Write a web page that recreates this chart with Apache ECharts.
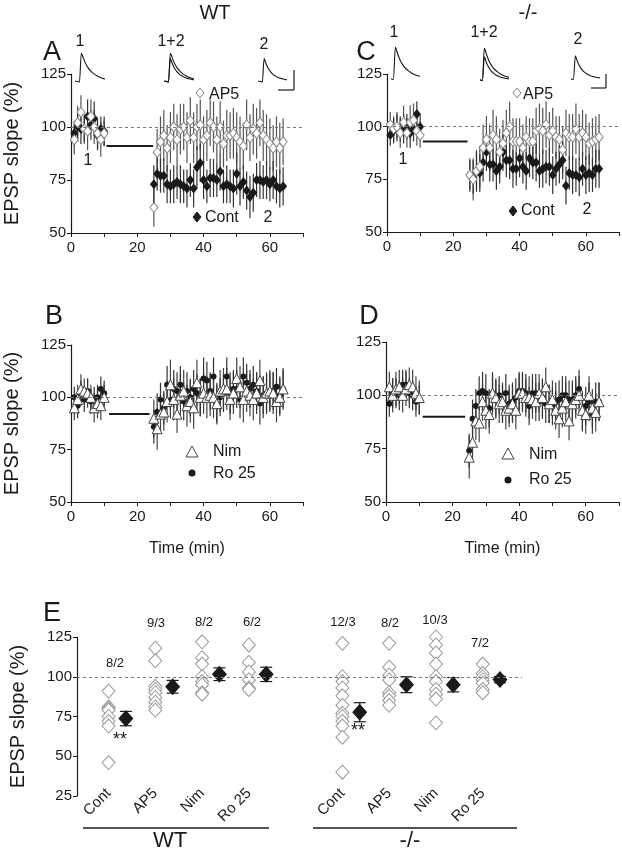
<!DOCTYPE html>
<html>
<head>
<meta charset="utf-8">
<script src="https://cdn.jsdelivr.net/npm/echarts@6.0.0/dist/echarts.min.js"></script>
<style>
  html, body { margin: 0; padding: 0; background: #fff; }
  #main { width: 622px; height: 853px; }
</style>
</head>
<body>
<div id="main"></div>
<script>
// time points (min)
const tBase = [1, 2, 3, 4, 5, 6, 7, 8, 9, 10];
const tPost = [25, 26, 27, 28, 29, 30, 31, 32, 33, 34, 35, 36, 37, 38, 39, 40, 41, 42, 43, 44,
  45, 46, 47, 48, 49, 50, 51, 52, 53, 54, 55, 56, 57, 58, 59, 60, 61, 62, 63, 64];

// A - WT, Cont / AP5
const aContBase = [97, 100, 99, 99, 105, 101, 104, 96, 99, 98];
const aContPost = [73, 78, 77, 77, 73, 72, 73, 74, 73, 72, 71, 75, 71, 81, 83, 75, 72, 76, 76, 75,
  79, 72, 73, 72, 71, 78, 72, 74, 70, 67, 69, 75, 75, 74, 75, 73, 75, 72, 71, 72];
const aContErr = [6, 7, 7, 6, 8, 7, 8, 7, 6, 7, 9, 8, 8, 8, 9, 8, 9, 8, 9, 8, 9, 8, 9, 10, 9, 9, 8, 9, 9, 8,
  9, 8, 9, 8, 9, 10, 9, 8, 9, 10, 9, 8, 9, 8, 9, 8, 9, 8, 9, 9];
const aAp5Base = [94, 102, 107, 99, 98, 105, 100, 97, 94, 97];
const aAp5Post = [62, 88, 93, 96, 90, 95, 100, 94, 99, 100, 95, 103, 95, 100, 101, 94, 96, 102, 100, 94,
  100, 92, 96, 96, 97, 95, 93, 91, 101, 95, 99, 97, 102, 96, 94, 92, 90, 93, 90, 93];
const aAp5Err = [7, 8, 8, 7, 9, 8, 8, 7, 8, 6, 9, 11, 12, 12, 11, 12, 11, 12, 12, 11, 12, 11, 12, 11, 12, 11, 12, 11, 12, 11,
  12, 11, 12, 11, 12, 12, 12, 11, 12, 11, 12, 12, 11, 12, 12, 12, 11, 12, 12, 11];

// C - -/-, Cont / AP5
const cContBase = [96, 98, 100, 99, 99, 100, 97, 99, 106, 100];
const cContPost = [77, 76, 79, 78, 83, 88, 82, 82, 79, 81, 88, 84, 84, 80, 80, 85, 81, 79, 85, 83,
  83, 79, 80, 81, 81, 77, 80, 82, 84, 72, 78, 77, 77, 76, 80, 77, 78, 77, 80, 80];
const cContErr = [5, 6, 6, 6, 7, 6, 7, 6, 6, 6, 7, 8, 9, 9, 9, 9, 8, 8, 9, 8, 9, 8, 9, 9, 8, 9, 8, 9, 9, 8,
  9, 8, 9, 8, 9, 9, 8, 9, 9, 9, 8, 9, 8, 9, 8, 9, 9, 8, 9, 9];
const cAp5Base = [101, 99, 100, 97, 102, 97, 102, 103, 98, 96];
const cAp5Post = [77, 75, 79, 81, 90, 94, 90, 96, 94, 88, 92, 97, 100, 93, 93, 93, 90, 95, 93, 93,
  98, 99, 98, 101, 96, 98, 95, 94, 89, 97, 95, 95, 99, 95, 97, 95, 92, 93, 94, 95];
const cAp5Err = [6, 6, 7, 7, 8, 7, 8, 8, 7, 6, 8, 10, 10, 10, 11, 11, 11, 12, 11, 11, 11, 11, 12, 11, 11, 11, 11, 10, 11, 11,
  11, 12, 11, 11, 11, 11, 10, 11, 11, 11, 11, 11, 12, 11, 11, 11, 10, 11, 11, 11];

// B - WT, Nim / Ro 25
const bNimBase = [95, 99, 104, 103, 102, 100, 95, 97, 96, 100];
const bNimPost = [90, 85, 92, 93, 98, 106, 99, 92, 101, 103, 96, 98, 95, 107, 100, 102, 100, 101, 100, 97,
  103, 104, 104, 99, 102, 109, 105, 99, 103, 101, 99, 102, 108, 100, 102, 103, 102, 98, 100, 104];
const bNimErr = [6, 7, 7, 6, 7, 6, 7, 7, 7, 6, 9, 10, 9, 9, 10, 12, 10, 9, 10, 10, 10, 10, 10, 11, 9, 10, 10, 10, 10, 10,
  10, 10, 10, 10, 10, 10, 10, 11, 10, 10, 10, 10, 10, 10, 10, 10, 10, 10, 9, 10];
const bRoBase = [100, 96, 102, 99, 103, 98, 99, 100, 104, 102];
const bRoPost = [86, 93, 99, 95, 106, 99, 104, 103, 106, 98, 103, 100, 104, 102, 100, 109, 108, 103, 110, 97,
  100, 102, 110, 102, 104, 104, 99, 110, 107, 104, 106, 103, 97, 101, 102, 103, 103, 105, 101, 104];
const bRoErr = [5, 6, 6, 6, 6, 6, 6, 6, 6, 6, 8, 9, 8, 8, 9, 9, 9, 9, 9, 9, 9, 9, 9, 9, 9, 10, 9, 9, 9, 9,
  9, 9, 9, 10, 9, 9, 9, 9, 9, 9, 9, 9, 10, 9, 9, 9, 9, 9, 9, 9];

// D - -/-, Nim / Ro 25
const dNimBase = [104, 100, 103, 104, 100, 103, 105, 104, 101, 99];
const dNimPost = [71, 78, 88, 87, 97, 93, 91, 101, 99, 96, 97, 93, 94, 96, 93, 101, 101, 99, 99, 98,
  97, 101, 99, 104, 96, 98, 93, 89, 94, 97, 88, 96, 98, 100, 93, 91, 100, 94, 92, 97];
const dNimErr = [7, 8, 8, 8, 8, 8, 8, 8, 8, 8, 10, 9, 9, 9, 9, 9, 9, 10, 9, 9, 9, 9, 9, 9, 9, 9, 9, 9, 10, 9,
  9, 9, 9, 9, 9, 9, 9, 9, 9, 9, 9, 9, 9, 9, 9, 9, 9, 9, 9, 9];
const dRoBase = [96, 101, 101, 100, 105, 105, 101, 100, 97, 98];
const dRoPost = [74, 89, 95, 101, 102, 101, 94, 101, 98, 100, 96, 101, 96, 97, 99, 102, 102, 101, 95, 101,
  101, 97, 98, 96, 96, 95, 97, 98, 100, 100, 98, 98, 100, 103, 92, 95, 97, 91, 97, 97];
const dRoErr = [6, 7, 7, 7, 7, 7, 7, 7, 7, 7, 8, 9, 8, 8, 9, 9, 9, 9, 9, 9, 9, 9, 9, 9, 9, 9, 9, 9, 9, 9,
  9, 9, 9, 9, 9, 9, 9, 9, 9, 9, 9, 9, 9, 9, 9, 9, 9, 9, 9, 9];

// drug application bars [start, end] and level
const drugA = [10.7, 24.8], drugLevelA = 91;
const drugC = [10.8, 24.3], drugLevelC = 93;
const drugB = [11.5, 23.7], drugLevelB = 92;
const drugD = [11.0, 23.8], drugLevelD = 90;

// E - single experiments
const namesE = ['Cont', 'AP5', 'Nim', 'Ro 25', 'Cont', 'AP5', 'Nim', 'Ro 25'];
const countsE = ['8/2', '9/3', '8/2', '6/2', '12/3', '8/2', '10/3', '7/2'];
const wtCont = [91, 81, 80, 79, 75, 72, 69, 46];
const wtAp5 = [118, 110, 94, 92, 90, 87, 84, 81, 79];
const wtNim = [122, 112, 108, 100, 97, 95, 90, 89];
const wtRo = [120, 109, 103, 98, 93, 92];
const koCont = [121, 100, 97, 93, 88, 82, 77, 75, 72, 69, 62, 40];
const koAp5 = [121, 106, 101, 98, 90, 88, 85, 82];
const koNim = [125, 120, 115, 108, 100, 97, 92, 89, 86, 71];
const koRo = [108, 102, 100, 98, 96, 92, 90];
const meanWT = [73.7, 93.7, 101.6, 101.5];
const errWT = [4.5, 4, 4, 4.5];
const meanKO = [77.7, 95, 95, 98.2];
const errKO = [6, 5, 4.5, 2];

// sample EPSP traces (normalised)
const traceA1 = [0, 0, -0.04, 1.0, 0.8, 0.62, 0.49, 0.39, 0.31, 0.25, 0.2, 0.16, 0.13, 0.1, 0.08];
const traceA2 = [0, 0, -0.04, 0.8, 0.6, 0.45, 0.34, 0.26, 0.2, 0.16, 0.12, 0.1, 0.08, 0.06, 0.05];
const traceC1 = [0, -0.03, 1.0, 0.78, 0.6, 0.47, 0.37, 0.3, 0.24, 0.19, 0.15, 0.12, 0.1, 0.08];
const traceC2 = [0, -0.03, 0.72, 0.52, 0.38, 0.28, 0.21, 0.16, 0.12, 0.09, 0.07, 0.05, 0.04, 0.03];

const FONT = 'Liberation Sans, Arial, sans-serif';
const INK = '#1a1a1a';
const times = tBase.concat(tPost);

function pts(base, post) {
  return base.concat(post).map((v, i) => [times[i], v]);
}
function errPts(base, post, e) {
  return base.concat(post).map((v, i) => [times[i], v - e[i], v + e[i]]);
}

function errBars(gi, data, color, cap) {
  return {
    type: 'custom', xAxisIndex: gi, yAxisIndex: gi, data: data, z: 2, silent: true,
    renderItem: function (params, api) {
      const x = api.value(0);
      const lo = api.coord([x, api.value(1)]);
      const hi = api.coord([x, api.value(2)]);
      const style = { stroke: color, lineWidth: 1.2 };
      const kids = [{ type: 'line', shape: { x1: lo[0], y1: lo[1], x2: hi[0], y2: hi[1] }, style: style }];
      if (cap) {
        kids.push({ type: 'line', shape: { x1: lo[0] - cap, y1: lo[1], x2: lo[0] + cap, y2: lo[1] }, style: style });
        kids.push({ type: 'line', shape: { x1: hi[0] - cap, y1: hi[1], x2: hi[0] + cap, y2: hi[1] }, style: style });
      }
      return { type: 'group', children: kids };
    }
  };
}

function dots(gi, data, symbol, size, fill, stroke, z) {
  return {
    type: 'scatter', xAxisIndex: gi, yAxisIndex: gi, data: data, symbol: symbol, symbolSize: size,
    itemStyle: { color: fill, borderColor: stroke || fill, borderWidth: stroke ? 1 : 0, opacity: 1 },
    z: z || 3, silent: true
  };
}

function refLine(gi) {
  return {
    type: 'line', xAxisIndex: gi, yAxisIndex: gi, data: [], silent: true,
    markLine: {
      silent: true, symbol: ['none', 'none'], label: { show: false },
      lineStyle: { type: [3, 3], color: '#777', width: 1 },
      data: [{ yAxis: 100 }]
    }
  };
}

function drugBar(gi, span, level) {
  return {
    type: 'line', xAxisIndex: gi, yAxisIndex: gi, showSymbol: false, silent: true,
    data: [[span[0], level], [span[1], level]],
    lineStyle: { color: INK, width: 2 }, z: 2
  };
}

function traceLine(gi, data) {
  return {
    type: 'line', xAxisIndex: gi, yAxisIndex: gi, showSymbol: false, silent: true, smooth: 0.25,
    data: data.map((v, i) => [i, v]), lineStyle: { color: INK, width: 1.1 }
  };
}

function timeAxis(gi, withName) {
  return {
    gridIndex: gi, type: 'value', min: 0, max: 70, interval: 10,
    axisLine: { onZero: false, lineStyle: { color: INK, width: 1.2 } },
    axisTick: { length: 4, lineStyle: { color: INK } },
    axisLabel: { formatter: v => (v % 20 === 0 ? String(v) : ''), color: INK, fontSize: 15, fontFamily: FONT, margin: 7 },
    splitLine: { show: false },
    name: withName ? 'Time (min)' : '', nameLocation: 'middle', nameGap: 39,
    nameTextStyle: { color: INK, fontSize: 16, fontFamily: FONT }
  };
}

function yAxis(gi, min, name) {
  return {
    gridIndex: gi, type: 'value', min: min, max: 125, interval: 25,
    axisLine: { show: true, onZero: false, lineStyle: { color: INK, width: 1.2 } },
    axisTick: { show: true, length: 4, lineStyle: { color: INK } },
    axisLabel: { color: INK, fontSize: 15, fontFamily: FONT, margin: 5 },
    splitLine: { show: false },
    name: name || '', nameLocation: 'middle', nameGap: 49,
    nameTextStyle: { color: INK, fontSize: 20, fontFamily: FONT }
  };
}

function hiddenAxes(gi, n) {
  return [
    { gridIndex: gi, type: 'value', min: 0, max: n - 1, show: false },
    { gridIndex: gi, type: 'value', min: -0.1, max: 1, show: false }
  ];
}

// graphic helpers
function txt(x, y, s, size, align) {
  const a = align || 'center';
  return {
    type: 'text', x: x, y: y, silent: true,
    style: { text: s, font: size + 'px ' + FONT, fill: INK, textAlign: a, textVerticalAlign: 'middle', align: a, verticalAlign: 'middle' }
  };
}
function seg(x1, y1, x2, y2, w) {
  return { type: 'line', silent: true, shape: { x1: x1, y1: y1, x2: x2, y2: y2 }, style: { stroke: INK, lineWidth: w || 1.2 } };
}
function diamond(x, y, filled) {
  return {
    type: 'polygon', silent: true,
    shape: { points: [[x, y - 5], [x + 4, y], [x, y + 5], [x - 4, y]] },
    style: { fill: filled ? INK : '#fff', stroke: filled ? INK : '#888', lineWidth: 1 }
  };
}
function triangle(x, y) {
  return {
    type: 'polygon', silent: true,
    shape: { points: [[x, y - 6], [x + 6, y + 5], [x - 6, y + 5]] },
    style: { fill: '#fff', stroke: '#444', lineWidth: 1 }
  };
}
function dot(x, y) {
  return { type: 'circle', silent: true, shape: { cx: x, cy: y, r: 3.5 }, style: { fill: INK } };
}

// panel E data
const posE = [0, 1, 2, 3, 5, 6, 7, 8];
const groupsE = [wtCont, wtAp5, wtNim, wtRo, koCont, koAp5, koNim, koRo];
const meansE = meanWT.concat(meanKO);
const semE = errWT.concat(errKO);
const openE = [];
groupsE.forEach((vals, g) => vals.forEach(v => openE.push([posE[g], v])));
const filledE = meansE.map((m, g) => [posE[g] + 0.37, m]);
const errE = meansE.map((m, g) => [posE[g] + 0.37, m - semE[g], m + semE[g]]);

const chart = echarts.init(document.getElementById('main'), null, { renderer: 'canvas' });

const option = {
  animation: false,
  backgroundColor: '#fff',
  grid: [
    { left: 71, top: 74, width: 232, height: 159 },   // A
    { left: 387, top: 74, width: 238, height: 158 },  // C
    { left: 71, top: 345, width: 232, height: 157 },  // B
    { left: 386, top: 342, width: 239, height: 160 }, // D
    { left: 71, top: 637, width: 451, height: 159 },  // E
    { left: 75, top: 53, width: 30, height: 31 },     // trace A1
    { left: 164, top: 53, width: 30, height: 31 },    // trace A1+2
    { left: 258, top: 53, width: 29, height: 31 },    // trace A2
    { left: 391, top: 47, width: 29, height: 35 },    // trace C1
    { left: 480, top: 48, width: 29, height: 35 },    // trace C1+2
    { left: 571, top: 47, width: 29, height: 35 }     // trace C2
  ],
  xAxis: [
    timeAxis(0, false), timeAxis(1, false), timeAxis(2, true), timeAxis(3, true),
    {
      gridIndex: 4, type: 'value', min: -0.675, max: 8.84,
      axisLine: { show: false, onZero: false }, axisTick: { show: false }, splitLine: { show: false },
      axisLabel: {
        customValues: posE, formatter: v => namesE[posE.indexOf(v)] || '',
        rotate: 45, color: INK, fontSize: 15, fontFamily: FONT, margin: -5
      }
    },
    hiddenAxes(5, traceA1.length)[0], hiddenAxes(6, traceA1.length)[0], hiddenAxes(7, traceA2.length)[0],
    hiddenAxes(8, traceC1.length)[0], hiddenAxes(9, traceC1.length)[0], hiddenAxes(10, traceC2.length)[0]
  ],
  yAxis: [
    yAxis(0, 50, 'EPSP slope (%)'), yAxis(1, 50), yAxis(2, 50, 'EPSP slope (%)'), yAxis(3, 50),
    yAxis(4, 25, 'EPSP slope (%)'),
    hiddenAxes(5, 2)[1], hiddenAxes(6, 2)[1], hiddenAxes(7, 2)[1],
    hiddenAxes(8, 2)[1], hiddenAxes(9, 2)[1], hiddenAxes(10, 2)[1]
  ],
  series: [
    // A
    refLine(0), drugBar(0, drugA, drugLevelA),
    errBars(0, errPts(aAp5Base, aAp5Post, aAp5Err), '#555'),
    errBars(0, errPts(aContBase, aContPost, aContErr), '#333'),
    dots(0, pts(aContBase, aContPost), 'diamond', [8, 10], INK),
    dots(0, pts(aAp5Base, aAp5Post), 'diamond', [8, 10], '#fff', '#888', 4),
    // C
    refLine(1), drugBar(1, drugC, drugLevelC),
    errBars(1, errPts(cAp5Base, cAp5Post, cAp5Err), '#555'),
    errBars(1, errPts(cContBase, cContPost, cContErr), '#333'),
    dots(1, pts(cContBase, cContPost), 'diamond', [8, 10], INK),
    dots(1, pts(cAp5Base, cAp5Post), 'diamond', [8, 10], '#fff', '#888', 4),
    // B
    refLine(2), drugBar(2, drugB, drugLevelB),
    errBars(2, errPts(bNimBase, bNimPost, bNimErr), '#444'),
    errBars(2, errPts(bRoBase, bRoPost, bRoErr), '#333'),
    dots(2, pts(bRoBase, bRoPost), 'circle', 6, INK),
    dots(2, pts(bNimBase, bNimPost), 'triangle', 10, '#fff', '#444', 4),
    // D
    refLine(3), drugBar(3, drugD, drugLevelD),
    errBars(3, errPts(dNimBase, dNimPost, dNimErr), '#444'),
    errBars(3, errPts(dRoBase, dRoPost, dRoErr), '#333'),
    dots(3, pts(dRoBase, dRoPost), 'circle', 6, INK),
    dots(3, pts(dNimBase, dNimPost), 'triangle', 10, '#fff', '#444', 4),
    // E
    refLine(4),
    dots(4, openE, 'diamond', [13, 14], '#fff', '#999'),
    errBars(4, errE, INK, 6),
    dots(4, filledE, 'diamond', [15, 17], INK, null, 4),
    // traces
    traceLine(5, traceA1),
    traceLine(6, traceA1), traceLine(6, traceA2),
    traceLine(7, traceA2),
    traceLine(8, traceC1),
    traceLine(9, traceC1), traceLine(9, traceC2),
    traceLine(10, traceC2)
  ],
  graphic: [
    txt(215, 13, 'WT', 20), txt(528, 13, '-/-', 20),
    txt(52, 53, 'A', 27), txt(366, 53, 'C', 27), txt(54, 317, 'B', 27), txt(369, 317, 'D', 27), txt(52, 614, 'E', 27),
    // trace labels
    txt(80, 42, '1', 16), txt(171, 42, '1+2', 16), txt(264, 45, '2', 16),
    txt(394, 33, '1', 16), txt(484, 33, '1+2', 16), txt(578, 40, '2', 16),
    // scale bars
    seg(294, 70, 294, 90), seg(278, 90, 294, 90),
    seg(606, 74, 606, 88), seg(591, 88, 606, 88),
    // A annotations
    txt(88, 161, '1', 16),
    diamond(200, 93, false), txt(209, 95, 'AP5', 16, 'left'),
    diamond(197, 217, true), txt(205, 218, 'Cont', 16, 'left'), txt(268, 218, '2', 16),
    // C annotations
    txt(403, 160, '1', 16),
    diamond(517, 93, false), txt(523, 95, 'AP5', 16, 'left'),
    diamond(513, 211, true), txt(521, 211, 'Cont', 16, 'left'), txt(587, 210, '2', 16),
    // B legend
    triangle(192, 452), txt(213, 452, 'Nim', 16, 'left'),
    dot(192, 473), txt(213, 474, 'Ro 25', 16, 'left'),
    // D legend
    triangle(508, 454), txt(529, 455, 'Nim', 16, 'left'),
    dot(508, 480), txt(529, 480, 'Ro 25', 16, 'left'),
    // E annotations
    txt(115, 663, countsE[0], 13), txt(156, 623, countsE[1], 13), txt(204, 622, countsE[2], 13), txt(252, 622, countsE[3], 13),
    txt(343, 622, countsE[4], 13), txt(390, 623, countsE[5], 13), txt(435, 620, countsE[6], 13), txt(480, 643, countsE[7], 13),
    txt(120, 740, '**', 18), txt(358, 731, '**', 18),
    seg(83, 828, 269, 828, 1.6), seg(313, 828, 517, 828, 1.6),
    txt(170, 841, 'WT', 22), txt(410, 841, '-/-', 22)
  ]
};

chart.setOption(option);
</script>
</body>
</html>
